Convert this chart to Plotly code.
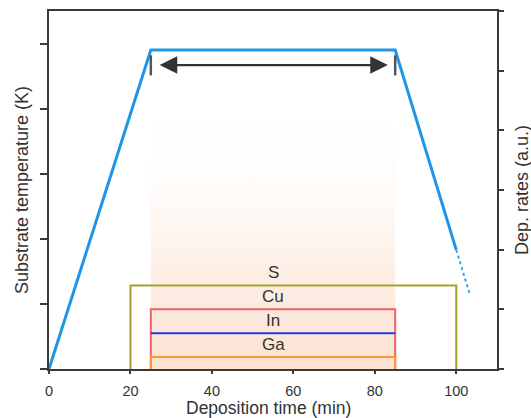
import plotly.graph_objects as go

# Substrate temperature profile (left axis, arbitrary units)
temp_time = [0, 25, 85, 100]
temp_value = [0, 4.9, 4.9, 1.83]
cool_time = [100, 103.3]
cool_value = [1.83, 1.15]

# Deposition windows (right axis, relative rates)
src_names = ["S", "Cu", "In", "Ga"]
src_start = [20, 25, 25, 25]
src_end = [100, 85, 85, 85]
src_rate = [1.4, 1.0, 0.6, 0.2]
src_colors = ["#a3a12e", "#f4606a", "#2b36e0", "#fb9a35"]

# Constant-temperature stage marked by the double arrow
stage_start, stage_end = 25, 85
arrow_level = 4.67
bar_low, bar_high = 4.51, 4.82
glow_top = 4.1

FONT = "Liberation Sans, Arial, sans-serif"
TXT = "#333333"
AX = "#3a3a3a"

fig = go.Figure()

# Warm glow behind the growth stage
fig.add_trace(go.Scatter(
    x=[stage_start, stage_end, stage_end, stage_start],
    y=[0, 0, glow_top, glow_top],
    fill="toself", mode="lines", line=dict(width=0),
    fillgradient=dict(type="vertical",
                      colorscale=[[0, "rgb(252,227,211)"],
                                  [0.35, "rgb(253,238,228)"],
                                  [1, "rgba(255,255,255,0)"]]),
    hoverinfo="skip", showlegend=False,
))

# Source boxes
for name, x0, x1, r, c in zip(src_names, src_start, src_end, src_rate, src_colors):
    if name == "In":
        xs, ys = [x0, x1], [r, r]
    else:
        xs, ys = [x0, x0, x1, x1], [0, r, r, 0]
    fig.add_trace(go.Scatter(x=xs, y=ys, yaxis="y2", mode="lines",
                             line=dict(color=c, width=2), showlegend=False,
                             hoverinfo="skip"))
    fig.add_annotation(x=(stage_start + stage_end) / 2, y=r, yref="y2",
                       text=name, showarrow=False, yanchor="bottom", yshift=1,
                       font=dict(family=FONT, size=17, color=TXT))

# Temperature curve
fig.add_trace(go.Scatter(x=temp_time, y=temp_value, mode="lines",
                         line=dict(color="#1e96e6", width=3), showlegend=False))
fig.add_trace(go.Scatter(x=cool_time, y=cool_value, mode="lines",
                         line=dict(color="#3aa4ee", width=2, dash="dot"),
                         showlegend=False))

# Stage limits and double arrow
for xb in (stage_start, stage_end):
    fig.add_trace(go.Scatter(x=[xb, xb], y=[bar_low, bar_high], mode="lines",
                             line=dict(color="#555555", width=2.5),
                             showlegend=False, hoverinfo="skip"))
fig.add_annotation(x=stage_end - 1.8, y=arrow_level, ax=stage_start + 1.8, ay=arrow_level,
                   xref="x", yref="y", axref="x", ayref="y", text="",
                   showarrow=True, arrowhead=2, arrowside="end+start",
                   arrowsize=1.6, arrowwidth=2.2, arrowcolor="#333333")

# Axis titles
fig.add_annotation(x=0, xref="paper", y=0.5, yref="paper", xshift=-27,
                   xanchor="center", yanchor="middle",
                   text="Substrate temperature (K)", textangle=-90, showarrow=False,
                   font=dict(family=FONT, size=18, color=TXT))
fig.add_annotation(x=1, xref="paper", y=0.5, yref="paper", xshift=25,
                   xanchor="center", yanchor="middle",
                   text="Dep. rates (a.u.)", textangle=-90, showarrow=False,
                   font=dict(family=FONT, size=18, color=TXT))
fig.add_annotation(x=0.49, xref="paper", y=0, yref="paper", yshift=-38.5,
                   xanchor="center", yanchor="middle",
                   text="Deposition time (min)", showarrow=False,
                   font=dict(family=FONT, size=17.5, color=TXT))

fig.update_layout(
    width=531, height=418,
    margin=dict(l=49, r=34, t=9, b=49),
    paper_bgcolor="white", plot_bgcolor="white",
    xaxis=dict(range=[0, 110], tickvals=[0, 20, 40, 60, 80, 100],
               showline=True, linecolor=AX, linewidth=1.5, mirror=True,
               ticks="outside", ticklen=3, tickcolor=AX, tickwidth=1.5,
               ticklabelstandoff=5,
               showgrid=False, zeroline=False,
               tickfont=dict(family=FONT, size=14.5, color=TXT)),
    yaxis=dict(range=[0, 5.5], tickvals=[0, 1, 2, 3, 4, 5], showticklabels=False,
               showline=True, linecolor=AX, linewidth=1.5,
               ticks="outside", ticklen=7, tickcolor=AX, tickwidth=1.5,
               showgrid=False, zeroline=False),
    yaxis2=dict(range=[0, 6], tickvals=[0, 1, 2, 3, 4, 5, 6], showticklabels=False,
                overlaying="y", side="right",
                showline=True, linecolor=AX, linewidth=1.5,
                ticks="outside", ticklen=5, tickcolor=AX, tickwidth=1.5,
                showgrid=False, zeroline=False),
)

fig.write_html("out.html")
